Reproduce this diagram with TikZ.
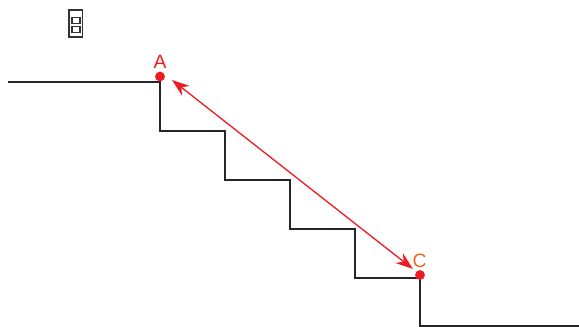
\documentclass[tikz,border=0pt]{standalone}
\usepackage{fontspec}
\setmainfont{Liberation Sans}
\usetikzlibrary{arrows.meta}
\definecolor{markred}{RGB}{237,28,36}
\definecolor{markorange}{RGB}{242,101,34}
\tikzset{
  stair/.style={draw=black!85, line width=1.15pt},
  iconbox/.style={draw=black!80, line width=1pt},
  dot/.style={circle, fill=markred, inner sep=0pt, minimum size=5.6pt},
  span/.style={draw=markred, line width=0.75pt, {Stealth[length=10pt,width=7pt]}-{Stealth[length=10pt,width=7pt]}},
  letter/.style={inner sep=0pt, font=\fontsize{11pt}{13pt}\selectfont},
}
\begin{document}
\begin{tikzpicture}[x=0.02cm,y=-0.02cm]
  \useasboundingbox (0,0) rectangle (579,327);

  \draw[stair] (8,82) -- (160,82) -- (160,131) -- (225,131) -- (225,180) -- (290,180)
    -- (290,229) -- (355,229) -- (355,278) -- (420,278) -- (420,326) -- (579,326);

  \draw[iconbox] (69,10) rectangle (82.5,37);
  \draw[iconbox] (72,17.5) rectangle (80,23.5);
  \draw[iconbox] (72,26.5) rectangle (80,32.5);

  \node[dot] (dotA) at (160,76.5) {};
  \node[dot] (dotC) at (420,275) {};
  \node[letter, markred] (labelA) at (160,62) {A};
  \node[letter, markorange] (labelC) at (419.5,261) {C};

  \coordinate (spanA) at (172,80);
  \coordinate (spanC) at (413,269);
  \draw[span] (spanA) -- (spanC);
\end{tikzpicture}
\end{document}
